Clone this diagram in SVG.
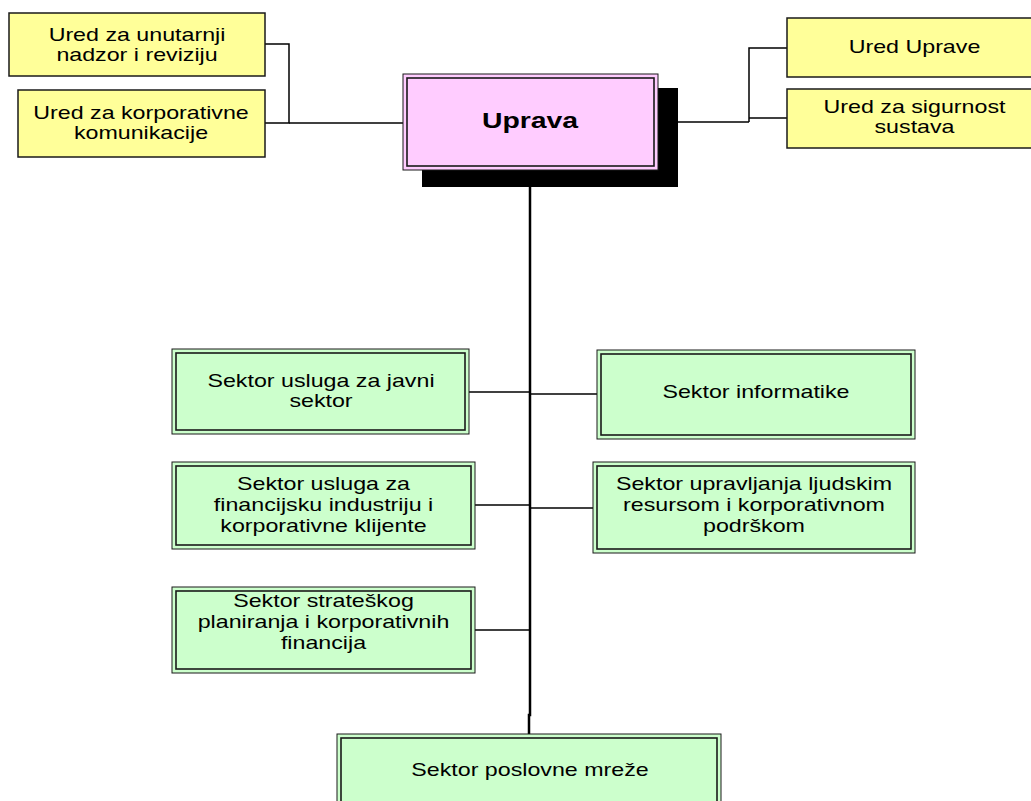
<svg xmlns="http://www.w3.org/2000/svg" width="1031" height="801" viewBox="0 0 1031 801">
<style>
.y{fill:#FFFF99;stroke:#1a1a1a;stroke-width:1.5}
.go{fill:#CCFFCC;stroke:#1a1a1a;stroke-width:1}
.gi{fill:none;stroke:#1a1a1a;stroke-width:1.6}
.po{fill:#FFCCFF;stroke:#1a1a1a;stroke-width:1}
.pi{fill:none;stroke:#1a1a1a;stroke-width:1.6}
.t{font-family:"Liberation Sans",Arial,sans-serif;font-size:18px;fill:#000;text-anchor:middle}
.b{font-family:"Liberation Sans",Arial,sans-serif;font-size:22px;font-weight:bold;fill:#000;text-anchor:middle}
.c{fill:none;stroke:#000;stroke-width:1.5}
.tr{fill:none;stroke:#000;stroke-width:2.5}
</style>
<rect width="1031" height="801" fill="#fff"/>
<g id="connectors">
<polyline class="c" points="265,44 289,44 289,123 265,123"/>
<line class="c" x1="289" y1="123" x2="403" y2="123"/>
<line class="c" x1="658" y1="122" x2="749" y2="122"/>
<polyline class="c" points="787,48 749,48 749,122"/>
<line class="c" x1="749" y1="118" x2="787" y2="118"/>
<polyline class="tr" points="530,170 530,715 529,715 529,734"/>
<line class="c" x1="469" y1="392" x2="530" y2="392"/>
<line class="c" x1="530" y1="394" x2="597" y2="394"/>
<line class="c" x1="475" y1="505" x2="530" y2="505"/>
<line class="c" x1="530" y1="508" x2="593" y2="508"/>
<line class="c" x1="475" y1="630" x2="530" y2="630"/>
</g>
<g id="ured-nadzor">
<rect class="y" x="9" y="13" width="256" height="63"/>
<text class="t" transform="translate(137,0) scale(1.29,1)"><tspan x="0" y="41">Ured za unutarnji</tspan><tspan x="0" y="61">nadzor i reviziju</tspan></text>
</g>
<g id="ured-komunikacije">
<rect class="y" x="18" y="90" width="247" height="67"/>
<text class="t" transform="translate(141,0) scale(1.29,1)"><tspan x="0" y="119">Ured za korporativne</tspan><tspan x="0" y="139">komunikacije</tspan></text>
</g>
<g id="uprava">
<rect x="422" y="88" width="256" height="99" fill="#000"/>
<rect class="po" x="403" y="74" width="255" height="96"/>
<rect class="pi" x="407" y="78" width="247" height="88"/>
<text class="b" transform="translate(530,0) scale(1.29,1)" x="0" y="128">Uprava</text>
</g>
<g id="ured-uprave">
<rect class="y" x="787" y="18" width="255" height="59"/>
<text class="t" transform="translate(914.5,0) scale(1.29,1)" x="0" y="53">Ured Uprave</text>
</g>
<g id="ured-sigurnost">
<rect class="y" x="787" y="89" width="255" height="59"/>
<text class="t" transform="translate(914.5,0) scale(1.29,1)"><tspan x="0" y="113">Ured za sigurnost</tspan><tspan x="0" y="133">sustava</tspan></text>
</g>
<g id="sektor-javni">
<rect class="go" x="172" y="349" width="297" height="85"/>
<rect class="gi" x="176" y="353" width="289" height="77"/>
<text class="t" transform="translate(321,0) scale(1.29,1)"><tspan x="0" y="387">Sektor usluga za javni</tspan><tspan x="0" y="407">sektor</tspan></text>
</g>
<g id="sektor-financijsku">
<rect class="go" x="172" y="462" width="303" height="87"/>
<rect class="gi" x="176" y="466" width="295" height="79"/>
<text class="t" transform="translate(323.5,0) scale(1.29,1)"><tspan x="0" y="490">Sektor usluga za</tspan><tspan x="0" y="511">financijsku industriju i</tspan><tspan x="0" y="532">korporativne klijente</tspan></text>
</g>
<g id="sektor-strateskog">
<rect class="go" x="172" y="587" width="303" height="86"/>
<rect class="gi" x="176" y="591" width="295" height="78"/>
<text class="t" transform="translate(323.5,0) scale(1.29,1)"><tspan x="0" y="607">Sektor strateškog</tspan><tspan x="0" y="628">planiranja i korporativnih</tspan><tspan x="0" y="649">financija</tspan></text>
</g>
<g id="sektor-informatike">
<rect class="go" x="597" y="350" width="318" height="89"/>
<rect class="gi" x="601" y="354" width="310" height="81"/>
<text class="t" transform="translate(756,0) scale(1.29,1)" x="0" y="398">Sektor informatike</text>
</g>
<g id="sektor-ljudski">
<rect class="go" x="593" y="462" width="322" height="91"/>
<rect class="gi" x="597" y="466" width="314" height="83"/>
<text class="t" transform="translate(754,0) scale(1.29,1)"><tspan x="0" y="490">Sektor upravljanja ljudskim</tspan><tspan x="0" y="511">resursom i korporativnom</tspan><tspan x="0" y="532">podrškom</tspan></text>
</g>
<g id="sektor-poslovne">
<rect class="go" x="337" y="734" width="384" height="80"/>
<rect class="gi" x="341" y="738" width="376" height="72"/>
<text class="t" transform="translate(530,0) scale(1.29,1)" x="0" y="776">Sektor poslovne mreže</text>
</g>
</svg>
